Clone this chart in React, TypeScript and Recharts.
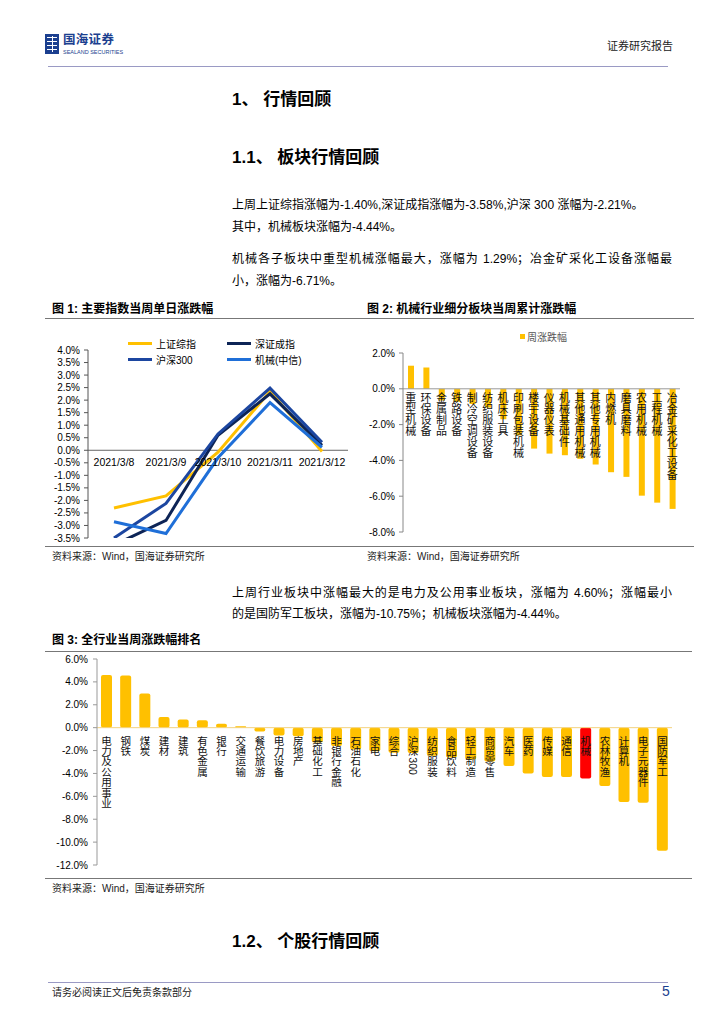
import React from 'react'
import {
  LineChart, Line, BarChart, Bar, Cell,
  XAxis, YAxis, ReferenceLine,
} from 'recharts'

const FONT = "'Liberation Sans', 'Noto Sans CJK SC', sans-serif"
const BLUE = '#1b3f8f'
const GOLD = '#FFC000'

// 图 1: 主要指数当周单日涨跌幅 (%)
const dates = ['2021/3/8', '2021/3/9', '2021/3/10', '2021/3/11', '2021/3/12']
const shComposite = [-2.3, -1.82, -0.08, 2.35, -0.05]
const szComponent = [-3.78, -2.8, 0.6, 2.25, 0.2]
const csi300 = [-3.5, -2.12, 0.65, 2.48, 0.32]
const machineryCiti = [-2.85, -3.32, -0.3, 1.9, 0.12]
const lineTicks = [4, 3.5, 3, 2.5, 2, 1.5, 1, 0.5, 0, -0.5, -1, -1.5, -2, -2.5, -3, -3.5]

// 图 2: 机械行业细分板块当周累计涨跌幅 (%)
const subSectors = [
  '重型机械', '环保设备', '金属制品', '铁路设备', '制冷空调设备', '纺织服装设备',
  '机床工具', '印刷包装机械', '楼宇设备', '仪器仪表', '机械基础件', '其他通用机械',
  '其他专用机械', '内燃机', '磨具磨料', '农用机械', '工程机械', '冶金矿采化工设备',
]
const subReturns = [
  1.29, 1.19, -0.65, -0.72, -0.85, -1.05, -1.7, -2.6, -3.34, -3.62, -3.71, -3.91,
  -4.23, -4.66, -4.92, -5.97, -6.36, -6.71,
]
const subTicks = [2, 0, -2, -4, -6, -8]

// 图 3: 全行业当周涨跌幅排名 (%)
const industries = [
  '电力及公用事业', '钢铁', '煤炭', '建材', '建筑', '有色金属', '银行', '交通运输',
  '餐饮旅游', '电力设备', '房地产', '基础化工', '非银行金融', '石油石化', '家电', '综合',
  '沪深300', '纺织服装', '食品饮料', '轻工制造', '商贸零售', '汽车', '医药', '传媒',
  '通信', '机械', '农林牧渔', '计算机', '电子元器件', '国防军工',
]
const industryReturns = [
  4.6, 4.55, 2.98, 0.93, 0.72, 0.64, 0.35, 0.13, -0.33, -0.68, -0.74, -1.3, -1.6,
  -1.9, -2.05, -2.2, -2.21, -2.45, -2.6, -2.78, -2.95, -3.35, -4.0, -4.3, -4.32,
  -4.44, -5.1, -6.5, -6.55, -10.75,
]
const industryTicks = [6, 4, 2, 0, -2, -4, -6, -8, -10, -12]
const highlight = '机械'

const lineSeries = [
  { key: 'sh', name: '上证综指', values: shComposite, color: GOLD },
  { key: 'sz', name: '深证成指', values: szComponent, color: '#0d2456' },
  { key: 'hs', name: '沪深300', values: csi300, color: '#1c46a0' },
  { key: 'jx', name: '机械(中信)', values: machineryCiti, color: '#1f6fd8' },
]

const lineData = dates.map((d, i) => {
  const row: Record<string, any> = { date: d }
  lineSeries.forEach((s) => { row[s.key] = s.values[i] })
  return row
})
const subData = subSectors.map((name, i) => ({ name, value: subReturns[i] }))
const industryData = industries.map((name, i) => ({ name, value: industryReturns[i] }))

const pct = (v: number) => `${v.toFixed(1)}%`

// 图1 尺寸
const L_W = 320, L_H = 220, L_TOP = 20, L_BOTTOM = 11, L_XH = 1
const L_PLOT_H = L_H - L_TOP - L_BOTTOM - L_XH
const L_SHIFT = L_PLOT_H * (0 - (-3.5)) / 7.5

function DateTick(props: any) {
  const { x, y, payload } = props
  return (
    <text x={x} y={y - L_SHIFT + 12} textAnchor="middle" dominantBaseline="central"
      fontSize={10.5} fill="#000" fontFamily={FONT}>{payload.value}</text>
  )
}

// 竖排类目标签（从零轴下方开始，数字旋转）
function makeVerticalTick(shift: number, first: number, step: number, fs: number) {
  return function VerticalTick(props: any) {
    const { x, y, payload } = props
    const tokens: string[] = String(payload.value).match(/\d+|./g) || []
    let top = y - shift + first - step / 2
    const out: React.ReactNode[] = []
    tokens.forEach((t, i) => {
      if (/^\d+$/.test(t)) {
        const len = t.length * fs * 0.56
        out.push(
          <text key={i} transform={`translate(${x},${top + len / 2 + 1}) rotate(90)`}
            textAnchor="middle" dominantBaseline="central" fontSize={fs} fill="#111" fontFamily={FONT}>{t}</text>
        )
        top += len + 2
      } else {
        out.push(
          <text key={i} x={x} y={top + step / 2} textAnchor="middle" dominantBaseline="central"
            fontSize={fs} fill="#111" fontFamily={FONT}>{t}</text>
        )
        top += step
      }
    })
    return <g>{out}</g>
  }
}

// 图2 尺寸
const S_W = 340, S_H = 220, S_TOP = 28, S_BOTTOM = 12, S_XH = 1
const S_PLOT_H = S_H - S_TOP - S_BOTTOM - S_XH
const S_SHIFT = S_PLOT_H * 8 / 10
const SubTick = makeVerticalTick(S_SHIFT, 9, 11, 11)

// 图3 尺寸
const I_W = 640, I_H = 225, I_TOP = 9, I_BOTTOM = 9, I_XH = 1
const I_PLOT_H = I_H - I_TOP - I_BOTTOM - I_XH
const I_SHIFT = I_PLOT_H * 12 / 18
const IndustryTick = makeVerticalTick(I_SHIFT, 13, 10.4, 10.5)

const tickStyle = { fontSize: 10, fill: '#000', fontFamily: FONT }

function Txt({ x, y, size = 12, bold = false, color = '#000', width, justify = false, children }: any) {
  return (
    <div style={{
      position: 'absolute', left: x, top: y - size * 0.7, fontSize: size, lineHeight: `${size * 1.4}px`,
      fontWeight: bold ? 700 : 400, color, whiteSpace: 'nowrap', width,
      textAlign: justify ? 'justify' : 'left', textAlignLast: justify ? 'justify' : 'auto',
    }}>{children}</div>
  )
}

function HLine({ x1, x2, y, color = '#888', w = 1 }: any) {
  return <div style={{ position: 'absolute', left: x1, top: y, width: x2 - x1, height: w, background: color }} />
}

function Logo() {
  return (
    <div style={{ position: 'absolute', left: 45, top: 34, width: 14, height: 20 }}>
      <div style={{ position: 'absolute', left: 0, top: 0, width: 14, height: 20, background: BLUE }} />
      {[3, 7, 11, 15].map((t) => (
        <div key={t} style={{ position: 'absolute', left: 2, top: t, width: 10, height: 1.2, background: '#fff' }} />
      ))}
      <div style={{ position: 'absolute', left: 6.5, top: 2, width: 1.2, height: 16, background: '#fff' }} />
    </div>
  )
}

function LineLegend() {
  return (
    <div style={{
      position: 'absolute', left: 128, top: 336, display: 'grid',
      gridTemplateColumns: '99px 99px', rowGap: 2, fontSize: 10, color: '#000',
    }}>
      {lineSeries.map((s) => (
        <div key={s.key} style={{ display: 'flex', alignItems: 'center', height: 14 }}>
          <span style={{ width: 24, height: 3, background: s.color, display: 'inline-block' }} />
          <span style={{ marginLeft: 4 }}>{s.name}</span>
        </div>
      ))}
    </div>
  )
}

export default function App() {
  return (
    <div style={{ position: 'absolute', left: 0, top: 0, width: 724, height: 1024, background: '#fff', fontFamily: FONT, overflow: 'hidden' }}>
      {/* 页眉 */}
      <Logo />
      <div style={{ position: 'absolute', left: 63, top: 33, fontSize: 12.5, lineHeight: '14px', fontWeight: 700, color: BLUE, letterSpacing: 0.3 }}>国海证券</div>
      <div style={{ position: 'absolute', left: 63, top: 49, fontSize: 5.5, lineHeight: '6px', color: BLUE }}>SEALAND SECURITIES</div>
      <Txt x={607} y={47} size={11} color="#222">证券研究报告</Txt>
      <HLine x1={48} x2={668} y={66} color="#9a9ac4" w={1.2} />

      {/* 正文 */}
      <Txt x={232} y={100} size={17} bold>1、 行情回顾</Txt>
      <Txt x={232} y={158} size={17} bold>1.1、 板块行情回顾</Txt>
      <Txt x={232} y={205} size={12}>上周上证综指涨幅为-1.40%,深证成指涨幅为-3.58%,沪深 300 涨幅为-2.21%。</Txt>
      <Txt x={232} y={227} size={12}>其中，机械板块涨幅为-4.44%。</Txt>
      <Txt x={232} y={259} size={12} width={440} justify>机械各子板块中重型机械涨幅最大，涨幅为 1.29%；冶金矿采化工设备涨幅最</Txt>
      <Txt x={232} y={281} size={12}>小，涨幅为-6.71%。</Txt>

      {/* 图1 / 图2 标题 */}
      <Txt x={52} y={309} size={12} bold>图 1:  主要指数当周单日涨跌幅</Txt>
      <Txt x={367} y={309} size={12} bold>图 2:  机械行业细分板块当周累计涨跌幅</Txt>
      <HLine x1={45} x2={694} y={318} color="#777" w={1.2} />

      {/* 图1 */}
      <div style={{ position: 'absolute', left: 40, top: 330 }}>
        <LineChart width={L_W} height={L_H} data={lineData}
          margin={{ top: L_TOP, right: 12, left: 8, bottom: L_BOTTOM }}>
          <XAxis dataKey="date" height={L_XH} axisLine={false} tickLine={false}
            padding={{ left: 26, right: 26 }}
            tickSize={0} tickMargin={0} interval={0} tick={<DateTick />} />
          <YAxis domain={[-3.5, 4]} ticks={lineTicks} allowDataOverflow interval={0}
            width={40} tickFormatter={pct} tick={tickStyle} tickSize={4} tickMargin={4}
            axisLine={{ stroke: '#555' }} tickLine={{ stroke: '#555' }} />
          <ReferenceLine y={0} stroke="#666" />
          {lineSeries.map((s) => (
            <Line key={s.key} type="linear" dataKey={s.key} name={s.name} stroke={s.color}
              strokeWidth={3} dot={false} isAnimationActive={false} />
          ))}
        </LineChart>
      </div>
      <LineLegend />

      {/* 图2 */}
      <div style={{ position: 'absolute', left: 520, top: 329, display: 'flex', alignItems: 'center', fontSize: 10, color: '#555' }}>
        <span style={{ width: 5, height: 5, background: GOLD, display: 'inline-block', marginRight: 2 }} />
        周涨跌幅
      </div>
      <div style={{ position: 'absolute', left: 355, top: 325 }}>
        <BarChart width={S_W} height={S_H} data={subData}
          margin={{ top: S_TOP, right: 15, left: 4, bottom: S_BOTTOM }}>
          <XAxis dataKey="name" height={S_XH} axisLine={false} tickLine={false}
            tickSize={0} tickMargin={0} interval={0} tick={<SubTick />} />
          <YAxis domain={[-8, 2]} ticks={subTicks} interval={0} width={44}
            tickFormatter={pct} tick={tickStyle} tickSize={4} tickMargin={4}
            axisLine={{ stroke: '#888' }} tickLine={{ stroke: '#888' }} />
          <ReferenceLine y={0} stroke="#999" />
          <Bar dataKey="value" name="周涨跌幅" fill={GOLD} barSize={6} isAnimationActive={false} />
        </BarChart>
      </div>

      <HLine x1={45} x2={694} y={546} color="#777" w={1.2} />
      <Txt x={52} y={557} size={10} color="#222">资料来源：Wind，国海证券研究所</Txt>
      <Txt x={367} y={557} size={10} color="#222">资料来源：Wind，国海证券研究所</Txt>

      <Txt x={232} y={593} size={12} width={440} justify>上周行业板块中涨幅最大的是电力及公用事业板块，涨幅为 4.60%；涨幅最小</Txt>
      <Txt x={232} y={614} size={12}>的是国防军工板块，涨幅为-10.75%；机械板块涨幅为-4.44%。</Txt>

      {/* 图3 */}
      <Txt x={52} y={640} size={12} bold>图 3:  全行业当周涨跌幅排名</Txt>
      <HLine x1={45} x2={692} y={651} color="#777" w={1.2} />
      <div style={{ position: 'absolute', left: 45, top: 650 }}>
        <BarChart width={I_W} height={I_H} data={industryData}
          margin={{ top: I_TOP, right: 13, left: 4, bottom: I_BOTTOM }}>
          <XAxis dataKey="name" height={I_XH} axisLine={false} tickLine={false}
            tickSize={0} tickMargin={0} interval={0} tick={<IndustryTick />} />
          <YAxis domain={[-12, 6]} ticks={industryTicks} interval={0} width={48}
            tickFormatter={pct} tick={tickStyle} tickSize={4} tickMargin={5}
            axisLine={{ stroke: '#999' }} tickLine={{ stroke: '#999' }} />
          <ReferenceLine y={0} stroke="#f3d27e" />
          <Bar dataKey="value" fill={GOLD} barSize={11} radius={2} isAnimationActive={false}>
            {industryData.map((d) => (
              <Cell key={d.name} fill={d.name === highlight ? '#ff0000' : GOLD} />
            ))}
          </Bar>
        </BarChart>
      </div>
      <HLine x1={45} x2={692} y={878} color="#777" w={1.2} />
      <Txt x={52} y={889} size={10} color="#222">资料来源：Wind，国海证券研究所</Txt>

      <Txt x={232} y={942} size={17} bold>1.2、 个股行情回顾</Txt>

      {/* 页脚 */}
      <HLine x1={48} x2={668} y={982} color="#9a9ac4" w={1.2} />
      <Txt x={52} y={993} size={10} color="#222">请务必阅读正文后免责条款部分</Txt>
      <Txt x={662} y={992} size={14} color={BLUE}>5</Txt>
    </div>
  )
}
